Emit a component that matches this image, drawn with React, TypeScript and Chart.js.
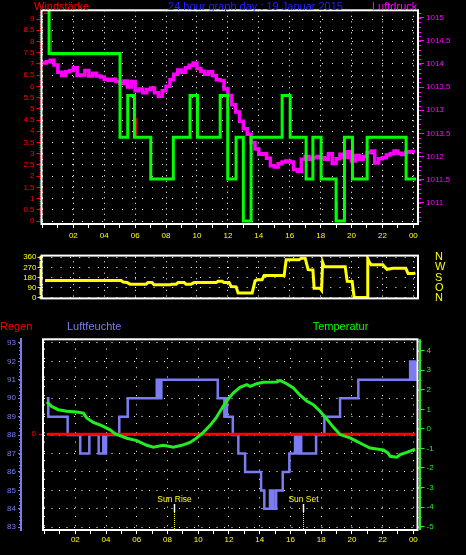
import React, { useEffect, useRef } from 'react';
import { Chart, registerables } from 'chart.js';

Chart.register(...registerables);
const FONT = '"Liberation Sans", Arial, sans-serif';
Chart.defaults.font.family = FONT;

// ================= Top chart: Windstärke / Luftdruck =================
const windTimes = [0, 0.43, 5.02, 5.52, 5.95, 7.01, 8.47, 9.55, 10.03, 11.5, 11.99, 12.53, 13.0, 13.5, 15.51, 16.03, 17.06, 17.5, 18.03, 19.0, 19.54, 20.06, 21.01, 23.53, 24.18];
const windValues = [9.6, 7.47, 3.73, 5.6, 3.73, 1.87, 3.73, 5.6, 3.73, 5.6, 1.87, 3.73, 0, 3.73, 5.6, 3.73, 1.87, 3.73, 1.87, 0, 3.73, 1.87, 3.73, 1.87, 1.87];

const gustTimes = [0.1, 0.43, 0.44, 0.58, 0.58, 5.02, 5.03, 6.06, 6.06, 6.07, 10.09, 10.09, 10.1, 19.09, 19.09];
const gustValues = [9.26, 9.26, null, 8.5, 7.4, 7.4, null, 4.6, 3.73, null, 4.6, 3.73, null, 0.86, 0];

const pressureStartHour = 0;
const pressureStepHours = 0.25;
const pressureValues = [
  1014.02, 1014.05, 1014.08, 1013.98, 1013.82, 1013.75, 1013.83, 1013.86, 1013.92, 1013.75,
  1013.76, 1013.86, 1013.74, 1013.8, 1013.74, 1013.72, 1013.67, 1013.65, 1013.67, 1013.62,
  1013.58, 1013.63, 1013.5, 1013.62, 1013.42, 1013.46, 1013.38, 1013.45, 1013.48, 1013.38,
  1013.3, 1013.42, 1013.52, 1013.66, 1013.78, 1013.87, 1013.82, 1013.92, 1013.97, 1014.02,
  1013.9, 1013.84, 1013.78, 1013.83, 1013.75, 1013.66, 1013.64, 1013.46, 1013.32, 1013.12,
  1012.96, 1012.76, 1012.6, 1012.48, 1012.3, 1012.16, 1012.05, 1012.06, 1011.96, 1011.8,
  1011.77, 1011.84, 1011.88, 1011.9, 1011.88, 1011.72, 1011.68, 1011.94, 1012.0, 1011.94,
  1011.97, 1012.0, 1011.97, 1011.94, 1012.06, 1011.85, 1011.95, 1012.05, 1011.98, 1012.1,
  1011.9, 1012.02, 1011.94, 1012.0, 1012.08, 1012.12, 1011.86, 1011.95, 1011.97, 1012.03,
  1012.06, 1012.12, 1012.07, 1012.04, 1012.09, 1012.11, 1012.08,
];
const pressureTickValues = [1011, 1011.5, 1012, 1012.5, 1013, 1013.5, 1014, 1014.5, 1015];
const pressureTickLabels = ['1011', '1011.5', '1012', '1013.5', '1013', '1013.5', '1014', '1014.5', '1015'];

// ================= Middle chart: Windrichtung =================
const dirTimes = [0.17, 5.09, 5.22, 5.48, 5.67, 6.71, 6.83, 7.09, 7.22, 8.26, 8.39, 8.65, 8.78, 9.17, 9.29, 9.62, 9.81, 11.24, 11.37, 11.63, 11.75, 12.08, 12.21, 12.53, 12.66, 13.57, 13.76, 13.89, 14.21, 14.34, 15.64, 15.77, 16.61, 16.74, 17.0, 17.19, 17.5, 17.58, 17.97, 18.06, 18.13, 18.23, 19.59, 19.72, 20.04, 20.17, 21.01, 21.05, 21.14, 21.27, 22.03, 22.17, 22.3, 22.69, 23.51, 23.66, 24.0, 24.13];
const dirValues = [153, 153, 140, 135, 121, 121, 135, 135, 116, 116, 121, 121, 135, 135, 121, 121, 135, 135, 146, 146, 135, 135, 100, 97, 43, 43, 150, 159, 159, 197, 197, 337, 337, 352, 352, 250, 247, 84, 84, 67, 315, 276, 276, 146, 144, 3, 3, 346, 320, 294, 294, 270, 253, 262, 262, 215, 215, 222];
const dirTickValues = [0, 90, 180, 270, 360];
const dirTickLabels = ['N', 'O', 'S', 'W', 'N'];

// ================= Bottom chart: Regen / Luftfeuchte / Temperatur =================
const humTimes = [0.14, 0.24, 1.5, 2.32, 2.91, 3.52, 3.82, 3.86, 4.0, 4.86, 5.41, 7.3, 7.35, 7.4, 7.45, 7.5, 7.55, 7.6, 11.27, 11.7, 11.83, 11.87, 12.25, 12.61, 13.05, 14.09, 14.3, 14.67, 14.72, 14.77, 14.82, 14.87, 14.9, 15.07, 15.5, 15.93, 16.3, 16.36, 16.42, 16.48, 16.54, 16.6, 16.66, 16.7, 17.67, 18.21, 19.23, 20.42, 23.79, 23.85, 23.91, 23.97, 24.03, 24.09, 24.15];
const humValues = [90, 89, 88, 87, 88, 87, 88, 87, 88, 89, 90, 91, 90, 91, 90, 91, 90, 91, 90, 89, 90, 89, 88, 87, 86, 85, 84, 85, 84, 85, 84, 85, 84, 85, 86, 87, 88, 87, 88, 87, 88, 87, 88, 87, 88, 89, 90, 91, 92, 91, 92, 91, 92, 91, 92];

const tempTimes = [0.14, 0.46, 0.89, 1.44, 2.09, 2.52, 2.74, 3.17, 3.6, 3.82, 4.26, 4.58, 5.35, 6.0, 6.65, 7.08, 7.73, 8.38, 8.93, 9.47, 9.9, 10.33, 10.77, 11.16, 11.42, 11.86, 12.29, 12.72, 13.16, 13.37, 13.81, 14.24, 15.11, 15.32, 15.76, 16.19, 16.63, 17.06, 17.49, 17.93, 18.37, 18.8, 19.23, 19.88, 20.32, 20.75, 21.18, 21.62, 22.05, 22.34, 22.49, 22.92, 23.14, 23.57, 24.11];
const tempValues = [1.38, 1.15, 0.98, 0.9, 0.86, 0.81, 0.56, 0.33, 0.21, 0.13, -0.05, -0.24, -0.48, -0.6, -0.84, -0.94, -0.84, -0.94, -0.84, -0.69, -0.46, -0.18, 0.18, 0.56, 0.9, 1.44, 1.84, 2.12, 2.26, 2.17, 2.31, 2.38, 2.4, 2.48, 2.31, 2.09, 1.72, 1.42, 1.24, 0.9, 0.5, 0.08, -0.29, -0.46, -0.64, -0.81, -0.98, -1.03, -1.08, -1.23, -1.4, -1.45, -1.32, -1.2, -1.03];

const rainTimes = [0.14, 24.1];
const rainValues = [0, 0];

const sunLabels = ['Sun Rise', 'Sun Set'];
const sunTimes = [8.42, 16.84];

// ================= helpers =================
const pts = (xs: number[], ys: (number | null)[]) => xs.map((x, i) => ({ x, y: ys[i] }));
const hourLabel = (v: any) => {
  const n = Number(v);
  return n > 0 && n % 2 === 0 ? String(n % 24).padStart(2, '0') : '';
};
const YELLOW = '#ffff00';
const HUM = '#7c7cf2';
const TEMP = '#22ee22';

function seq(a: number, b: number, step: number) {
  const out: number[] = [];
  const n = Math.round((b - a) / step);
  for (let i = 0; i <= n; i++) out.push(+(a + i * step).toFixed(4));
  return out;
}
function drawMinor(ctx: any, scale: any, values: number[], x0: number, dir: number, len: number, color: string) {
  ctx.save();
  ctx.strokeStyle = color;
  ctx.lineWidth = 1;
  ctx.beginPath();
  for (const v of values) {
    const y = Math.round(scale.getPixelForValue(v)) + 0.5;
    ctx.moveTo(x0, y);
    ctx.lineTo(x0 + dir * len, y);
  }
  ctx.stroke();
  ctx.restore();
}
function frame(ctx: any, a: any) {
  ctx.save();
  ctx.strokeStyle = '#ffffff';
  ctx.lineWidth = 2;
  ctx.strokeRect(a.left, a.top, a.right - a.left, a.bottom - a.top);
  ctx.restore();
}
function text(ctx: any, s: string, x: number, y: number, color: string, size: number, align = 'left') {
  ctx.save();
  ctx.font = `${size}px ${FONT}`;
  ctx.fillStyle = color;
  ctx.textAlign = align;
  ctx.textBaseline = 'alphabetic';
  ctx.fillText(s, x, y);
  ctx.restore();
}

function hourAxis(min: number, max: number, showLabels: boolean, height: number, dash: number[], pad: number, drawTicks = true) {
  return {
    type: 'linear',
    position: 'bottom',
    min,
    max,
    afterFit: (s: any) => { s.height = height; },
    ticks: {
      stepSize: 1,
      autoSkip: false,
      includeBounds: false,
      maxRotation: 0,
      minRotation: 0,
      color: YELLOW,
      font: { size: 8 },
      padding: pad,
      callback: showLabels ? hourLabel : () => '',
    },
    grid: {
      color: (c: any) => (c.tick && c.tick.value % 2 === 0 ? '#ffffff' : 'rgba(0,0,0,0)'),
      lineWidth: 1,
      tickColor: '#ffffff',
      tickLength: 4,
      drawTicks,
    },
    border: { display: false, dash },
  };
}

const baseOptions = {
  responsive: false,
  animation: false,
  devicePixelRatio: 1,
  events: [],
  plugins: { legend: { display: false }, tooltip: { enabled: false }, title: { display: false } },
};

function topConfig(): any {
  return {
    type: 'line',
    data: {
      datasets: [
        { label: 'Luftdruck', data: pressureValues.map((p, i) => ({ x: pressureStartHour + i * pressureStepHours, y: p })), yAxisID: 'yP', borderColor: '#ff00ff', borderWidth: 3.5, pointRadius: 0, stepped: 'before', order: 3 },
        { label: 'Böen', data: pts(gustTimes, gustValues), yAxisID: 'yW', borderColor: '#ff0000', borderWidth: 1, pointRadius: 0, spanGaps: false, order: 2 },
        { label: 'Windstärke', data: pts(windTimes, windValues), yAxisID: 'yW', borderColor: '#00ff00', borderWidth: 3, pointRadius: 0, stepped: 'before', order: 1 },
      ],
    },
    options: {
      ...baseOptions,
      layout: { padding: { top: 10.3, left: 0, right: 0, bottom: 0 }, autoPadding: false },
      scales: {
        x: hourAxis(-0.06, 24.3, true, 20, [1, 4.5], 3),
        yW: {
          type: 'linear', position: 'left', min: -0.13, max: 9.39,
          afterFit: (s: any) => { s.width = 41.5; },
          ticks: { stepSize: 0.5, autoSkip: false, includeBounds: false, color: '#ff0000', font: { size: 8 }, padding: 2, callback: (v: any) => String(v) },
          grid: { color: '#ffffff', lineWidth: 1, tickColor: '#ff0000', tickLength: 5 },
          border: { display: false, dash: [1, 9] },
        },
        yP: {
          type: 'linear', position: 'right', min: 1010.54, max: 1015.16,
          afterFit: (s: any) => { s.width = 48; },
          ticks: {
            stepSize: 0.5, autoSkip: false, includeBounds: false, color: '#ff00ff', font: { size: 8 }, padding: 2,
            callback: (v: any) => { const i = pressureTickValues.indexOf(Number(v)); return i >= 0 ? pressureTickLabels[i] : ''; },
          },
          grid: { drawOnChartArea: false, tickColor: '#ff00ff', tickLength: 6 },
          border: { display: false },
        },
      },
    },
    plugins: [{
      id: 'decorTop',
      afterDraw(chart: any) {
        const { ctx, chartArea: a, scales } = chart;
        drawMinor(ctx, scales.yW, seq(0, 9.3, 0.1), a.left, -1, 2, '#ff0000');
        drawMinor(ctx, scales.yP, seq(1010.6, 1015.1, 0.1), a.right, 1, 3, '#ff00ff');
        frame(ctx, a);
        text(ctx, 'Windstärke', 34, 10, '#ff0000', 11);
        text(ctx, '24 hour graph day : 19 Januar 2015', 255.5, 10, '#2020ff', 11, 'center');
        text(ctx, 'Luftdruck', 372, 10, '#ff00ff', 11);
      },
    }],
  };
}

function midConfig(): any {
  return {
    type: 'line',
    data: {
      datasets: [
        { label: 'Windrichtung', data: pts(dirTimes, dirValues), yAxisID: 'yD', borderColor: YELLOW, borderWidth: 3, pointRadius: 0 },
      ],
    },
    options: {
      ...baseOptions,
      layout: { padding: { top: 9.7, left: 0, right: 0, bottom: 0 }, autoPadding: false },
      scales: {
        x: hourAxis(-0.06, 24.3, false, 12.7, [1, 4.7], 0, false),
        yD: {
          type: 'linear', position: 'left', min: -5.6, max: 374.6,
          afterFit: (s: any) => { s.width = 41.5; },
          ticks: { stepSize: 90, autoSkip: false, includeBounds: false, color: YELLOW, font: { size: 8 }, padding: 1 },
          grid: { color: '#ffffff', lineWidth: 1, tickColor: YELLOW, tickLength: 4 },
          border: { display: false, dash: [1, 8.3] },
        },
        yDir: {
          type: 'linear', position: 'right', min: -5.6, max: 374.6,
          afterFit: (s: any) => { s.width = 48; },
          ticks: {
            stepSize: 90, autoSkip: false, includeBounds: false, color: YELLOW, font: { size: 11 }, padding: 17,
            callback: (v: any) => { const i = dirTickValues.indexOf(Number(v)); return i >= 0 ? dirTickLabels[i] : ''; },
          },
          grid: { drawOnChartArea: false, drawTicks: false },
          border: { display: false },
        },
      },
    },
    plugins: [{
      id: 'decorMid',
      afterDraw(chart: any) {
        const { ctx, chartArea: a, scales } = chart;
        drawMinor(ctx, scales.yD, seq(0, 370, 10), a.left, -1, 2, YELLOW);
        frame(ctx, a);
      },
    }],
  };
}

function bottomConfig(): any {
  return {
    type: 'line',
    data: {
      datasets: [
        { label: 'Luftfeuchte', data: pts(humTimes, humValues), yAxisID: 'yHum', borderColor: HUM, borderWidth: 2.5, pointRadius: 0, stepped: 'before', order: 3 },
        { label: 'Regen', data: pts(rainTimes, rainValues), yAxisID: 'yRain', borderColor: '#ff0000', borderWidth: 3, pointRadius: 0, order: 2 },
        { label: 'Temperatur', data: pts(tempTimes, tempValues), yAxisID: 'yT', borderColor: TEMP, borderWidth: 3, pointRadius: 0, order: 1 },
      ],
    },
    options: {
      ...baseOptions,
      layout: { padding: { top: 21.3, left: 0, right: 0, bottom: 0 }, autoPadding: false },
      scales: {
        x: hourAxis(-0.104, 24.27, true, 25, [1, 8.3], 1),
        yRain: {
          type: 'linear', position: 'left', weight: 0, min: -1.01, max: 1,
          afterFit: (s: any) => { s.width = 22; },
          afterBuildTicks: (s: any) => { s.ticks = [{ value: 0 }]; },
          ticks: { autoSkip: false, color: '#ff0000', font: { size: 8 }, padding: 3, callback: (v: any) => String(v) },
          grid: { drawOnChartArea: false, tickColor: '#ff0000', tickLength: 4 },
          border: { display: false },
        },
        yHum: {
          type: 'linear', position: 'left', weight: 1, min: 82.85, max: 93.2,
          afterFit: (s: any) => { s.width = 21; },
          ticks: { stepSize: 1, autoSkip: false, includeBounds: false, color: HUM, font: { size: 8 }, padding: 2 },
          grid: { color: '#ffffff', lineWidth: 1, tickColor: HUM, tickLength: 3 },
          border: { display: true, color: HUM, width: 2, dash: [1, 6.5] },
        },
        yT: {
          type: 'linear', position: 'right', min: -5.17, max: 4.58,
          afterFit: (s: any) => { s.width = 48.5; },
          ticks: { stepSize: 1, autoSkip: false, includeBounds: false, color: TEMP, font: { size: 8 }, padding: 2 },
          grid: { drawOnChartArea: false, tickColor: TEMP, tickLength: 7 },
          border: { display: false },
        },
      },
    },
    plugins: [{
      id: 'decorBottom',
      afterDraw(chart: any) {
        const { ctx, chartArea: a, scales } = chart;
        drawMinor(ctx, scales.yHum, seq(83, 93, 0.2), scales.yHum.right, -1, 2, HUM);
        drawMinor(ctx, scales.yT, seq(-5, 4.5, 0.5), a.right, 1, 4, TEMP);
        // temperature axis line
        ctx.save();
        ctx.strokeStyle = TEMP;
        ctx.lineWidth = 2;
        ctx.beginPath();
        ctx.moveTo(a.right + 2.5, a.top);
        ctx.lineTo(a.right + 2.5, a.bottom);
        ctx.stroke();
        ctx.restore();
        // sun rise / sun set markers
        sunTimes.forEach((t, i) => {
          const x = Math.round(scales.x.getPixelForValue(t)) + 0.5;
          ctx.save();
          ctx.strokeStyle = '#ffffff';
          ctx.lineWidth = 1.5;
          ctx.beginPath();
          ctx.moveTo(x, a.bottom - 26);
          ctx.lineTo(x, a.bottom - 18);
          ctx.stroke();
          ctx.strokeStyle = YELLOW;
          ctx.lineWidth = 1;
          ctx.setLineDash([1, 1]);
          ctx.beginPath();
          ctx.moveTo(x, a.bottom - 18);
          ctx.lineTo(x, a.bottom);
          ctx.stroke();
          ctx.restore();
          text(ctx, sunLabels[i], x, a.bottom - 28.5, YELLOW, 8.5, 'center');
        });
        frame(ctx, a);
        text(ctx, 'Regen', 0, 12, '#ff0000', 11);
        text(ctx, 'Luftfeuchte', 67, 12, HUM, 11);
        text(ctx, 'Temperatur', 312.7, 12, '#00ff00', 11);
      },
    }],
  };
}

export default function App() {
  const r1 = useRef<HTMLCanvasElement>(null);
  const r2 = useRef<HTMLCanvasElement>(null);
  const r3 = useRef<HTMLCanvasElement>(null);

  useEffect(() => {
    document.body.style.margin = '0';
    document.body.style.background = '#000';
    const c1 = new Chart(r1.current as HTMLCanvasElement, topConfig());
    const c2 = new Chart(r2.current as HTMLCanvasElement, midConfig());
    const c3 = new Chart(r3.current as HTMLCanvasElement, bottomConfig());
    return () => { c1.destroy(); c2.destroy(); c3.destroy(); };
  }, []);

  return (
    <div style={{ position: 'fixed', left: 0, top: 0, width: 466, height: 555, background: '#000', overflow: 'hidden' }}>
      <canvas ref={r1} width={466} height={244} style={{ position: 'absolute', left: 0, top: 0 }} />
      <canvas ref={r2} width={466} height={90} style={{ position: 'absolute', left: 0, top: 232 }} />
      <canvas ref={r3} width={466} height={237} style={{ position: 'absolute', left: 0, top: 318 }} />
    </div>
  );
}
